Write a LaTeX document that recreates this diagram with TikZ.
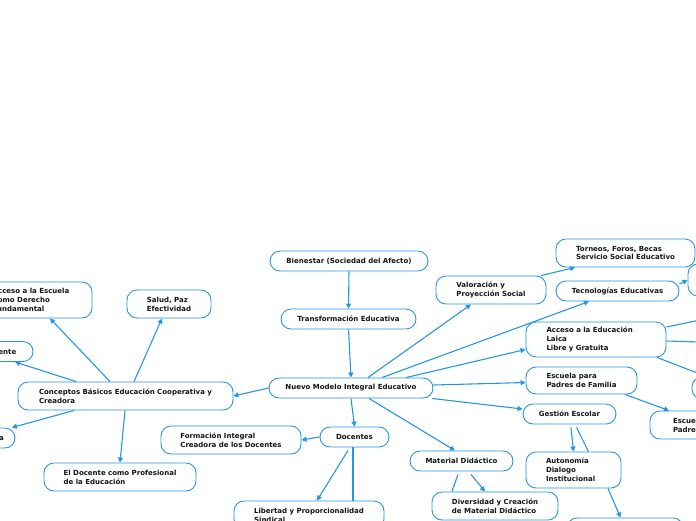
\documentclass[tikz,border=0pt]{standalone}
\usepackage{fontspec}
\setmainfont{DejaVu Sans}
\usetikzlibrary{arrows.meta}
\definecolor{mblue}{RGB}{38,150,224}
\definecolor{mtext}{RGB}{20,20,20}
\begin{document}
\begin{tikzpicture}[x=1pt,y=-1pt,
 box/.style={draw=mblue, line width=0.9pt, fill=white, rounded corners=10pt, align=left,
   font=\fontsize{7}{8.8}\selectfont\bfseries, text=mtext, inner sep=0pt},
 conn/.style={mblue, line width=1.1pt, -{Triangle[length=5pt,width=5pt]}},
 plainline/.style={mblue, line width=1.1pt}]
\useasboundingbox (0,0) rectangle (696,520);
\clip (0,0) rectangle (696,520);

% nodes
\node[box, minimum width=158pt, minimum height=20pt] (bien) at (349,261) {Bienestar (Sociedad del Afecto)};
\node[box, minimum width=135pt, minimum height=20pt] (trans) at (348.5,319) {Transformación Educativa};
\node[box, minimum width=164pt, minimum height=20pt] (nuevo) at (351,388) {Nuevo Modelo Integral Educativo};
\node[box, minimum width=215pt, minimum height=28pt] (conc) at (125.5,396) {Conceptos Básicos Educación Cooperativa y\\Creadora};
\node[box, minimum width=122pt, minimum height=36pt] (accesc) at (31,300) {Acceso a la Escuela\\Como Derecho\\Fundamental};
\node[box, minimum width=66pt, minimum height=20pt] (ente) at (0,351.5) {Docente};
\node[box, minimum width=70pt, minimum height=20pt] (lb) at (-20,438) {Convivencia};
\node[box, minimum width=84pt, minimum height=28pt] (salud) at (169,304) {Salud, Paz\\Efectividad};
\node[box, minimum width=152pt, minimum height=28pt] (eldoc) at (120,477) {El Docente como Profesional\\de la Educación};
\node[box, minimum width=140pt, minimum height=28pt] (form) at (231,440) {Formación Integral\\Creadora de los Docentes};
\node[box, minimum width=69pt, minimum height=20pt] (doc) at (354.5,437) {Docentes};
\node[box, minimum width=150pt, minimum height=28pt] (lib) at (309,515) {Libertad y Proporcionalidad\\Sindical};
\node[box, minimum width=103pt, minimum height=20pt] (mat) at (461.5,461) {Material Didáctico};
\node[box, minimum width=126pt, minimum height=28pt] (div) at (495,506) {Diversidad y Creación\\de Material Didáctico};
\node[box, minimum width=110pt, minimum height=28pt] (valor) at (491,290) {Valoración y\\Proyección Social};
\node[box, minimum width=139pt, minimum height=28pt] (torneos) at (625.5,253) {Torneos, Foros, Becas\\Servicio Social Educativo};
\node[box, minimum width=123pt, minimum height=20pt] (tecno) at (617.5,291) {Tecnologías Educativas};
\node[box, minimum width=140pt, minimum height=35pt, text width=99pt] (accesoed) at (596,339.5) {Acceso a la Educación\\Laica\\Libre y Gratuita};
\node[box, minimum width=111pt, minimum height=27pt] (escp) at (581.5,380.5) {Escuela para\\Padres de Familia};
\node[box, minimum width=93pt, minimum height=20pt] (gest) at (569.5,414) {Gestión Escolar};
\node[box, minimum width=95pt, minimum height=36pt, text width=55pt] (auto) at (573.5,470) {Autonomía\\Dialogo\\Institucional};
\node[box, minimum width=116pt, minimum height=20pt] (br) at (625,528) {};
\node[box, minimum width=76pt, minimum height=28pt] (escr) at (688,425) {Escuela\\Padres};
\node[box, minimum width=100pt, minimum height=32pt] (rn1) at (738,280) {};
\node[box, minimum width=100pt, minimum height=22pt] (rn2) at (742,388) {};

\coordinate (off1) at (700,320);
\coordinate (off2) at (700,342);
\coordinate (off3) at (700,374);

% connectors
\draw[conn] (bien.south) -- (trans.north);
\draw[conn] (trans.south) -- (nuevo.north);
\draw[conn] (nuevo.west) -- (conc.east);
\draw[conn] ([xshift=-15.5pt]conc.north) -- ([xshift=19pt]accesc.south);
\draw[conn] ([xshift=8.5pt]conc.north) -- ([xshift=-7pt]salud.south);
\draw[conn] ([xshift=-49.5pt]conc.north) -- ([xshift=15pt]ente.south);
\draw[conn] ([xshift=-51.5pt]conc.south) -- ([xshift=32pt]lb.north);
\draw[conn] ([xshift=-0.5pt]conc.south) -- (eldoc.north);
\draw[conn] (nuevo.south) -- (doc.north);
\draw[conn] (doc.west) -- (form.east);
\draw[conn] ([xshift=-6.5pt,yshift=-3pt]doc.south) -- ([xshift=8pt]lib.north);
\draw[plainline] ([xshift=-1.5pt]doc.south) -- ([xshift=44pt]lib.north);
\draw[conn] ([xshift=18pt]nuevo.south) -- ([xshift=-6.5pt]mat.north);
\draw[conn] ([xshift=9.5pt,yshift=-3pt]mat.south) -- ([xshift=-10pt]div.north);
\draw[plainline] ([xshift=-3.5pt,yshift=-3pt]mat.south) -- ([xshift=-43pt]div.north);
\draw[conn] ([xshift=17pt]nuevo.north) -- ([xshift=-20pt]valor.south);
\draw[conn] ([xshift=50pt]valor.north) -- ([xshift=-50.5pt]torneos.south);
\draw[conn] ([xshift=31pt]nuevo.north) -- ([xshift=-28.5pt]tecno.south);
\draw[conn] ([xshift=55pt]nuevo.north) -- ([yshift=-10pt]accesoed.west);
\draw[conn] ([yshift=3pt]nuevo.east) -- ([yshift=-2pt]escp.west);
\draw[conn] ([xshift=81pt]nuevo.south) -- ([yshift=5pt]gest.west);
\draw[conn] ([xshift=43.5pt]escp.south) -- ([xshift=-19pt]escr.north);
\draw[conn] ([xshift=1.5pt,yshift=-3pt]gest.south) -- (auto.north);
\draw[plainline] ([xshift=7pt,yshift=-3pt]gest.south) -- ([xshift=15pt]auto.north);
\draw[conn] ([xshift=34.5pt]auto.south) -- ([xshift=-4.5pt]br.north);
\draw[conn] ([yshift=7pt]tecno.east) -- (rn1.west);
\draw[plainline] ([yshift=12.5pt]accesoed.east) -- (off1);
\draw[plainline] ([yshift=-1.5pt]accesoed.east) -- (off2);
\draw[plainline] ([xshift=61pt]accesoed.south) -- (off3);
\end{tikzpicture}
\end{document}
